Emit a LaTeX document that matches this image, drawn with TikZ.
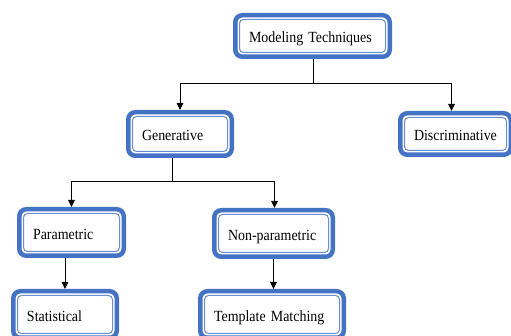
\documentclass[tikz,border=0pt]{standalone}
\usepackage{fontspec}
\setmainfont{Liberation Serif}[FakeStretch=0.9]
\usetikzlibrary{arrows.meta,calc}
\definecolor{bblue}{HTML}{4472C4}
\definecolor{iblue}{HTML}{6A8ED0}
\tikzset{
  box/.style n args={2}{draw=bblue, line width=4.5pt, rounded corners=7pt, fill=white,
    minimum width=#1, minimum height=#2, text width=#1-27.5pt, inner xsep=13.75pt,
    text height=16pt, text depth=2pt,
    align=left, font=\fontsize{15.5}{17}\selectfont},
  inner/.style={draw=iblue, line width=1pt, rounded corners=4pt},
  conn/.style={draw=black, line width=0.9pt},
  arr/.style={conn, -{Triangle[width=6.5pt,length=7pt]}}
}
\newcommand{\innerline}[1]{\draw[inner] ($(#1.south west)+(6.5,6.5)$) rectangle ($(#1.north east)+(-6.5,-6.5)$);}
\begin{document}
\begin{tikzpicture}[x=1pt,y=1pt]
\useasboundingbox (0,0) rectangle (511,-336);
\node[box={154.5pt}{41.5pt}] (mt) at (312.5,-36) {Modeling Techniques};
\node[box={103.5pt}{43.5pt}] (gen) at (180,-134) {Generative};
\node[box={110.5pt}{41.5pt}] (dis) at (455.5,-134) {Discriminative};
\node[box={104.5pt}{46.5pt}] (par) at (71.5,-232.5) {Parametric};
\node[box={118.5pt}{46.5pt}] (non) at (273.5,-233.5) {Non-parametric};
\node[box={103.5pt}{46.5pt}] (stat) at (65,-314.5) {Statistical};
\node[box={143.5pt}{46.5pt}] (tm) at (272,-314.5) {Template Matching};
\foreach \n in {mt,gen,dis,par,non,stat,tm}{\innerline{\n}}
\coordinate (mj) at (313,-83);
\coordinate (gj) at (172,-181);
\draw[conn] (mt.south -| mj) -- (mj);
\draw[arr] (mj) -| (gen.north);
\draw[arr] (mj) -| ($(dis.north)+(-4,0)$);
\draw[conn] (gen.south -| gj) -- (gj);
\draw[arr] (gj) -| (par.north);
\draw[arr] (gj) -| ($(non.north)+(1,0)$);
\draw[arr] (stat.north |- par.south) -- (stat.north);
\draw[arr] (non.south) -- (non.south |- tm.north);
\end{tikzpicture}
\end{document}
